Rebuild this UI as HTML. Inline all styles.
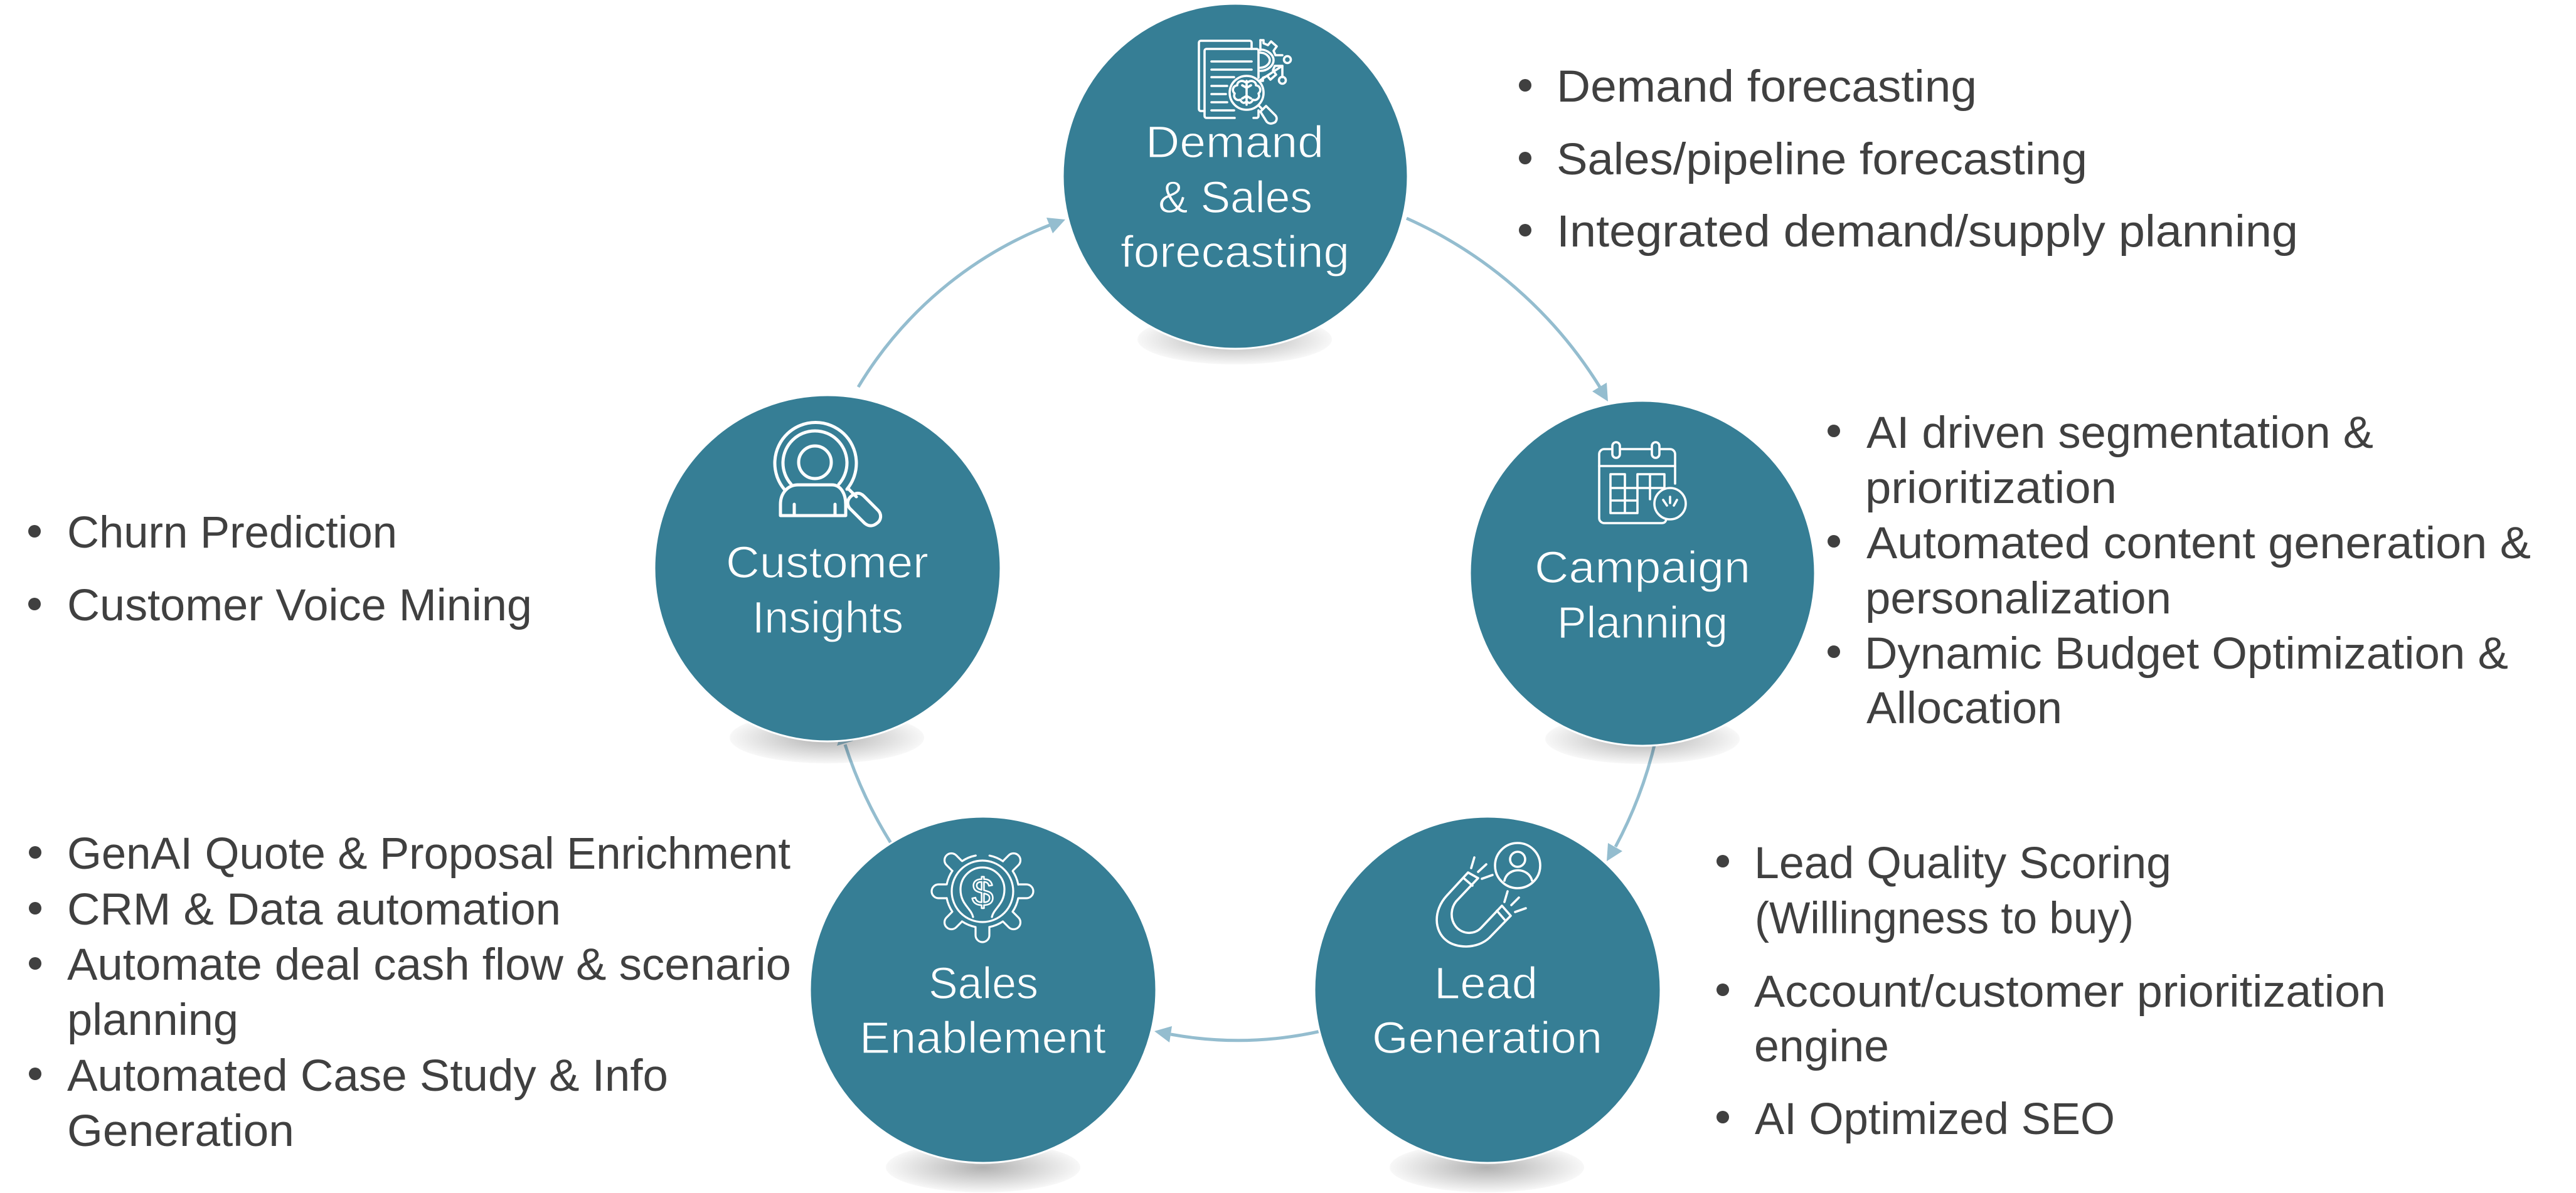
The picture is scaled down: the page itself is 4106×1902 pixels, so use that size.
<!DOCTYPE html>
<html><head><meta charset="utf-8"><style>
html,body{margin:0;padding:0;background:#fff}
svg{display:block}
text{font-family:"Liberation Sans",sans-serif;font-size:71px}
.b text{fill:#404040}
.b circle{fill:#404040}
.w text{fill:#fff;stroke:#367e95;stroke-width:1.2}
.i{fill:none;stroke:#fff;stroke-width:3.6;stroke-linecap:round;stroke-linejoin:round}
.a{mix-blend-mode:multiply}
.a path{fill:none;stroke:#94bdcf;stroke-width:5}
.a polygon{fill:#94bdcf}
</style></head><body>
<svg width="4106" height="1902" viewBox="0 0 4106 1902" xmlns="http://www.w3.org/2000/svg">
<defs><radialGradient id="s"><stop offset="0" stop-color="#b1b1b1"/><stop offset="1" stop-color="#f8f8f8"/></radialGradient></defs>
<rect width="4106" height="1902" fill="#fff"/>
<ellipse cx="1968" cy="541" rx="155" ry="40" fill="url(#s)"/>
<ellipse cx="2618" cy="1178" rx="155" ry="40" fill="url(#s)"/>
<ellipse cx="2370" cy="1861" rx="155" ry="40" fill="url(#s)"/>
<ellipse cx="1567" cy="1861" rx="155" ry="40" fill="url(#s)"/>
<ellipse cx="1318" cy="1176" rx="155" ry="41" fill="url(#s)"/>
<g class="a">
<path d="M2242 348A695 695 0 0 1 2550 617"/><polygon points="2563,640 2538,624 2561,610"/>
<path d="M2639 1180A695 695 0 0 1 2575 1350"/><polygon points="2561,1373 2563,1344 2586,1357"/>
<path d="M2105 1644A600 600 0 0 1 1866 1649"/><polygon points="1840,1644 1868,1636 1864,1662"/>
<path d="M1420 1344A695 695 0 0 1 1347 1187"/><polygon points="1344,1160 1334,1189 1360,1181"/>
<path d="M1368 617A620 620 0 0 1 1673 359"/><polygon points="1698,350 1668,347 1678,372"/>
</g>
<g fill="#367e95" stroke="#fff" stroke-width="3">
<circle cx="1969" cy="281" r="275"/>
<circle cx="2618" cy="914" r="275"/>
<circle cx="2371" cy="1578" r="276"/>
<circle cx="1567" cy="1578" r="276"/>
<circle cx="1319" cy="906" r="276"/>
</g>
<g class="w">
<text x="1826" y="251" textLength="284" lengthAdjust="spacingAndGlyphs">Demand</text>
<text x="1846" y="339" textLength="246" lengthAdjust="spacingAndGlyphs">&amp; Sales</text>
<text x="1786" y="426" textLength="365" lengthAdjust="spacingAndGlyphs">forecasting</text>
<text x="2446" y="929" textLength="344" lengthAdjust="spacingAndGlyphs">Campaign</text>
<text x="2482" y="1017" textLength="272" lengthAdjust="spacingAndGlyphs">Planning</text>
<text x="2286" y="1592" textLength="165" lengthAdjust="spacingAndGlyphs">Lead</text>
<text x="2187" y="1679" textLength="367" lengthAdjust="spacingAndGlyphs">Generation</text>
<text x="1480" y="1592" textLength="175" lengthAdjust="spacingAndGlyphs">Sales</text>
<text x="1370" y="1679" textLength="393" lengthAdjust="spacingAndGlyphs">Enablement</text>
<text x="1157" y="921" textLength="323" lengthAdjust="spacingAndGlyphs">Customer</text>
<text x="1199" y="1009" textLength="241" lengthAdjust="spacingAndGlyphs">Insights</text>
</g>
<g class="b">
<circle cx="2431" cy="136" r="10"/><circle cx="2431" cy="252" r="10"/><circle cx="2431" cy="367" r="10"/>
<text x="2481" y="162" textLength="670" lengthAdjust="spacingAndGlyphs">Demand forecasting</text>
<text x="2481" y="278" textLength="846" lengthAdjust="spacingAndGlyphs">Sales/pipeline forecasting</text>
<text x="2481" y="393" textLength="1182" lengthAdjust="spacingAndGlyphs">Integrated demand/supply planning</text>

<circle cx="2923" cy="687" r="10"/><circle cx="2923" cy="863" r="10"/><circle cx="2923" cy="1039" r="10"/>
<text x="2975" y="714" textLength="808" lengthAdjust="spacingAndGlyphs">AI driven segmentation &amp;</text>
<text x="2973" y="802" textLength="401" lengthAdjust="spacingAndGlyphs">prioritization</text>
<text x="2975" y="890" textLength="1059" lengthAdjust="spacingAndGlyphs">Automated content generation &amp;</text>
<text x="2973" y="978" textLength="488" lengthAdjust="spacingAndGlyphs">personalization</text>
<text x="2972" y="1066" textLength="1026" lengthAdjust="spacingAndGlyphs">Dynamic Budget Optimization &amp;</text>
<text x="2975" y="1153" textLength="312" lengthAdjust="spacingAndGlyphs">Allocation</text>

<circle cx="2746" cy="1373" r="10"/><circle cx="2746" cy="1578" r="10"/><circle cx="2746" cy="1781" r="10"/>
<text x="2796" y="1400" textLength="665" lengthAdjust="spacingAndGlyphs">Lead Quality Scoring</text>
<text x="2797" y="1488" textLength="604" lengthAdjust="spacingAndGlyphs">(Willingness to buy)</text>
<text x="2796" y="1605" textLength="1007" lengthAdjust="spacingAndGlyphs">Account/customer prioritization</text>
<text x="2796" y="1692" textLength="215" lengthAdjust="spacingAndGlyphs">engine</text>
<text x="2797" y="1808" textLength="574" lengthAdjust="spacingAndGlyphs">AI Optimized SEO</text>

<circle cx="55" cy="847" r="10"/><circle cx="55" cy="963" r="10"/>
<text x="107" y="873" textLength="526" lengthAdjust="spacingAndGlyphs">Churn Prediction</text>
<text x="107" y="989" textLength="741" lengthAdjust="spacingAndGlyphs">Customer Voice Mining</text>

<circle cx="56" cy="1359" r="10"/><circle cx="56" cy="1448" r="10"/><circle cx="56" cy="1536" r="10"/><circle cx="56" cy="1712" r="10"/>
<text x="107" y="1385" textLength="1153" lengthAdjust="spacingAndGlyphs">GenAI Quote &amp; Proposal Enrichment</text>
<text x="107" y="1474" textLength="787" lengthAdjust="spacingAndGlyphs">CRM &amp; Data automation</text>
<text x="107" y="1562" textLength="1154" lengthAdjust="spacingAndGlyphs">Automate deal cash flow &amp; scenario</text>
<text x="107" y="1650" textLength="273" lengthAdjust="spacingAndGlyphs">planning</text>
<text x="107" y="1739" textLength="958" lengthAdjust="spacingAndGlyphs">Automated Case Study &amp; Info</text>
<text x="107" y="1827" textLength="362" lengthAdjust="spacingAndGlyphs">Generation</text>
</g>

<!-- icon: forecast -->
<g class="i">
<path d="M1920 177h-6a3 3 0 0 1-3-3V68a3 3 0 0 1 3-3h78a3 3 0 0 1 3 3v10"/>
<path d="M1968 188h-45a3 3 0 0 1-3-3V81a3 3 0 0 1 3-3h80a3 3 0 0 1 3 3v43"/>
<path d="M2006 176v9a3 3 0 0 1-3 3h-5"/>
<path d="M1931 98h64M1931 111h64M1931 123h36M1931 137h25M1931 150h23M1931 163h25M1931 176h36"/>
<circle cx="1987" cy="148" r="27"/>
<path d="M1987 129v38M1987 140l-7-4M1987 140l7-4M1987 153l-7 4M1987 153l7 4"/>
<path d="M1985 131c-6-4-13-1-13 5-7 1-9 9-4 13-3 7 3 12 9 10 2 5 6 6 8 4M1989 131c6-4 13-1 13 5 7 1 9 9 4 13 3 7-3 12-9 10-2 5-6 6-8 4"/>
<path d="M2006 168l5 5M2009 178l9-9 15 15c4 5 1 11-3 12-4 2-8 1-11-2z"/>
<path d="M2009 64h5v5l7 3 5-6 9 8-5 7 3 7h11M2044 105h-12l-3 7 5 7-9 8-5-6-7 3v5h-6z"/>
<path d="M2009 79c12 0 21 9 21 17s-9 17-21 17M2009 84c9 0 15 7 15 12s-6 12-15 12"/>
<path d="M2009 80v-16M2044 105v18"/>
<circle cx="2052" cy="95" r="5.5"/><circle cx="2044" cy="128" r="5.5"/>
</g>

<!-- icon: calendar -->
<g class="i">
<path d="M2670 771V724a8 8 0 0 0-8-8h-16M2632 716h-49M2569 716h-12a8 8 0 0 0-8 8v102a8 8 0 0 0 8 8h92c4 0 6-2 7-6"/>
<path d="M2549 743h121"/>
<rect x="2570" y="705" width="12" height="25" rx="6"/><rect x="2633" y="705" width="12" height="25" rx="6"/>
<path d="M2567 756h23v62h-23zM2567 778h63M2567 798h43M2590 818h20v-62M2610 798v-42h43v22M2630 756v40M2610 778h43"/>
<circle cx="2662" cy="803" r="25"/>
<path d="M2651 797l6 9M2662 792v10M2673 797l-5 9"/>
</g>

<!-- icon: magnet -->
<g class="i">
<circle cx="2419" cy="1380" r="36"/><circle cx="2419" cy="1370" r="12"/>
<path d="M2398 1404c5-22 38-22 44 0"/>
<path d="M2340 1391l-34 37c-22 24-20 56-1 71 15 13 49 15 69-4l34-35-14-16-33 35c-12 13-33 10-42-4-8-12-6-28 2-38l35-37z"/>
<path d="M2333 1400l14 12M2386 1452l12 14"/>
<path d="M2350 1367l-5 17M2369 1378l-13 12M2379 1395l-17 6M2403 1421l-5 17M2421 1431l-12 12M2432 1448l-17 6"/>
</g>

<!-- icon: gear dollar -->
<g class="i" style="stroke-width:3.2" transform="translate(1566 1421)">
<circle r="58" stroke-dasharray="23.55 22" stroke-dashoffset="-11"/>
<circle r="49"/>
<path d="M58-11h12a11 11 0 0 1 0 22H58"/>
<path transform="rotate(45)" d="M58-11h12a11 11 0 0 1 0 22H58"/>
<path transform="rotate(90)" d="M58-11h12a11 11 0 0 1 0 22H58"/>
<path transform="rotate(135)" d="M58-11h12a11 11 0 0 1 0 22H58"/>
<path transform="rotate(180)" d="M58-11h12a11 11 0 0 1 0 22H58"/>
<path transform="rotate(225)" d="M58-11h12a11 11 0 0 1 0 22H58"/>
<path transform="rotate(-45)" d="M58-11h12a11 11 0 0 1 0 22H58"/>
<path d="M-15 41c-3-14-20-20-20-44a35 35 0 0 1 70 0c0 24-17 30-20 44"/>
<text x="-17" y="23" style="font-size:62px;fill:none;stroke:#fff;stroke-width:2.5">$</text>
</g>

<!-- icon: customer -->
<g class="i" style="stroke-width:5">
<path d="M1250 780A65 65 0 1 1 1350 780"/>
<path d="M1261 772A51 51 0 1 1 1337 772"/>
<circle cx="1299" cy="737" r="26"/>
<path d="M1244 822V804c0-18 12-31 28-31h54c14 0 22 14 22 31v18z"/>
<path d="M1266 804v18M1331 804v18M1352 779l13 13"/>
<path d="M1354 810c-5-7-3-15 4-20s13-5 19 1l23 23c6 7 4 16-2 20-6 5-13 6-20 0z"/>
</g>
</svg>
</body></html>
